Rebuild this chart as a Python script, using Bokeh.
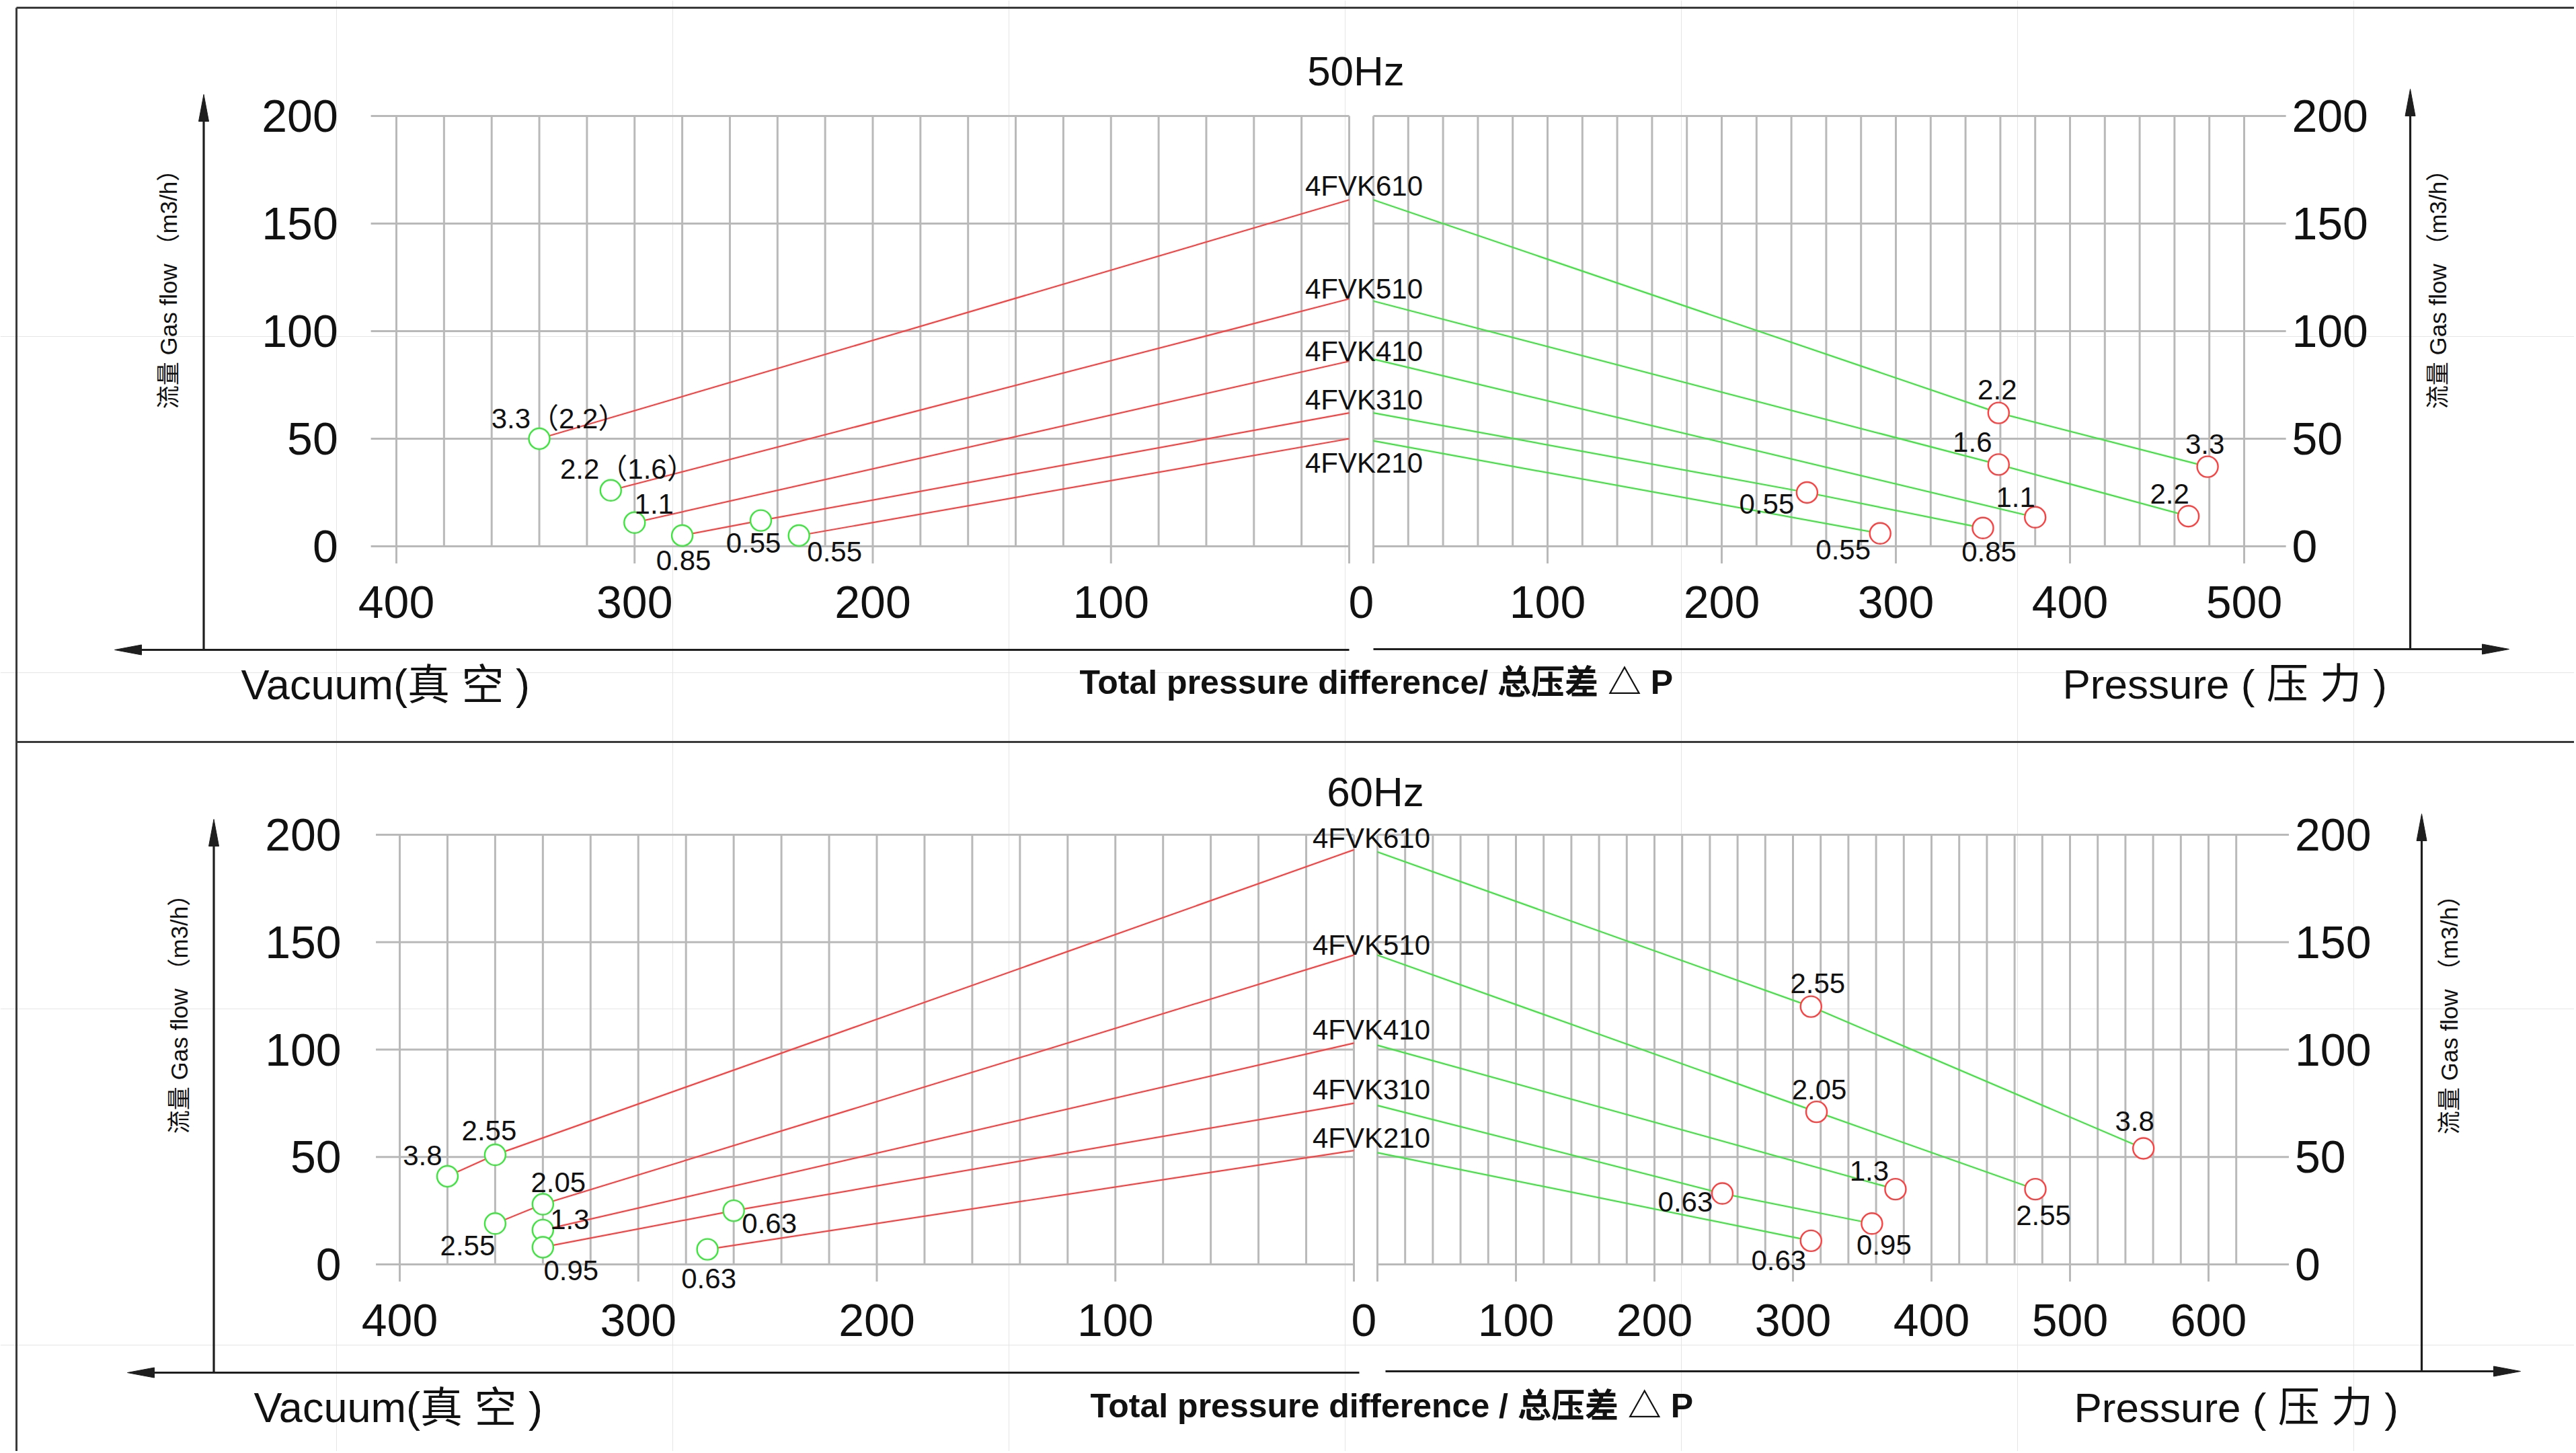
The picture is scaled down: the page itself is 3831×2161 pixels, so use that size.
import numpy as np
from bokeh.plotting import figure
from bokeh.models import Range1d, ColumnDataSource
from bokeh.core.properties import value
from bokeh.embed import file_html
from bokeh.resources import INLINE

# ---------------------------------------------------------------- data
models = ["4FVK610", "4FVK510", "4FVK410", "4FVK310", "4FVK210"]

# 50 Hz : flow (m3/h) at zero pressure difference
vac50_q0 = [161, 115, 86, 62, 50]
pre50_q0 = [161, 114, 87, 62, 49]
# 50 Hz operating points: model index, pressure difference, flow, motor kW
vac50_model = [0, 1, 2, 3, 3, 4]
vac50_dp = [340, 310, 300, 247, 280, 231]
vac50_q = [50, 26, 11, 12, 5, 5]
vac50_kw = ["3.3（2.2）", "2.2（1.6）", "1.1", "0.55", "0.85", "0.55"]

pre50_model = [0, 0, 1, 1, 2, 3, 3, 4]
pre50_dp = [359, 479, 359, 468, 380, 249, 350, 291]
pre50_q = [62, 37, 38, 14, 13.5, 25, 8.5, 6]
pre50_kw = ["2.2", "3.3", "1.6", "2.2", "1.1", "0.55", "0.85", "0.55"]

# 60 Hz
vac60_q0 = [193, 144, 103, 75, 53]
pre60_q0 = [192, 144, 102, 74, 52]
vac60_model = [0, 0, 1, 1, 2, 3, 3, 4]
vac60_dp = [360, 380, 340, 360, 340, 260, 340, 271]
vac60_q = [51, 41, 28, 19, 16, 25, 8, 7]
vac60_kw = ["2.55", "3.8", "2.05", "2.55", "1.3", "0.63", "0.95", "0.63"]

pre60_model = [0, 0, 1, 1, 2, 3, 3, 4]
pre60_dp = [313, 553, 317, 475, 374, 249, 357, 313]
pre60_q = [120, 54, 71, 35, 35, 33, 19, 11]
pre60_kw = ["2.55", "3.8", "2.05", "2.55", "1.3", "0.63", "0.95", "0.63"]

flow_ticks = [0, 50, 100, 150, 200]
vac_ticks = [400, 300, 200, 100]
pre50_ticks = [100, 200, 300, 400, 500]
pre60_ticks = [100, 200, 300, 400, 500, 600]

# ---------------------------------------------------------------- style
FONT = "Liberation Sans, Noto Sans CJK SC"
TXT = "#111111"
RED = "#ff4040"
GREEN = "#3ce63c"
GRID = "#b9b9b9"
AX = "#1e1e1e"

W, H = 3828, 2158
X0, Y0 = 0, 0

p = figure(width=W, height=H, output_backend="svg", toolbar_location=None,
           x_range=Range1d(X0, X0 + W), y_range=Range1d(Y0 + H, Y0),
           x_axis_location=None, y_axis_location=None, min_border=0)
p.outline_line_color = None
p.background_fill_color = "white"
p.border_fill_color = "white"


def lin(a, b, lo, hi):
    # screen px = a + b * data
    return Range1d(start=(lo - a) / b, end=(hi - a) / b)


p.extra_x_ranges = {
    "v50": lin(2006, -3.5425, X0, X0 + W),
    "p50": lin(2042, 2.59, X0, X0 + W),
    "v60": lin(2013, -3.5475, X0, X0 + W),
    "p60": lin(2048, 2.06, X0, X0 + W),
}
p.extra_y_ranges = {
    "y50": lin(812, -3.2, Y0 + H, Y0),
    "y60": lin(1880, -3.195, Y0 + H, Y0),
}


def tkw(size, align="center", baseline="middle", bold=False):
    return dict(text_font=value(FONT), text_font_size=f"{size}px", text_color=TXT,
                text_align=align, text_baseline=baseline,
                text_font_style="bold" if bold else "normal")


def grid(xr, yr, vmax, hend):
    xs = list(range(0, vmax + 1, 20))
    y0 = [-8 if x % 100 == 0 else 0 for x in xs]
    p.segment(x0=xs, y0=y0, x1=xs, y1=[200] * len(xs), line_color=GRID, line_width=3,
              x_range_name=xr, y_range_name=yr)
    p.segment(x0=[0] * len(flow_ticks), y0=flow_ticks, x1=[hend] * len(flow_ticks),
              y1=flow_ticks, line_color=GRID, line_width=3,
              x_range_name=xr, y_range_name=yr)


def curves(xr, yr, q0, model, dp, q, kw, offs, lcol, pcol):
    xs, ys = [], []
    for i in range(len(q0)):
        xx = [0] + [d for m, d in zip(model, dp) if m == i]
        yy = [q0[i]] + [v for m, v in zip(model, q) if m == i]
        xs.append(xx)
        ys.append(yy)
    p.multi_line(xs=xs, ys=ys, line_color=lcol, line_width=2.2,
                 x_range_name=xr, y_range_name=yr)
    p.scatter(x=dp, y=q, marker="circle", size=31, fill_color="white",
              line_color=pcol, line_width=2.4, x_range_name=xr, y_range_name=yr)
    src = ColumnDataSource(dict(x=dp, y=q, t=kw, dx=[o[0] for o in offs],
                                dy=[o[1] for o in offs]))
    p.text(x="x", y="y", text="t", x_offset="dx", y_offset="dy", source=src,
           x_range_name=xr, y_range_name=yr, **tkw(42))


def arrow_head(tx, ty, direction, length=40, half=7.5):
    if direction == "up":
        xs, ys = [tx, tx - half, tx + half], [ty, ty + length, ty + length]
    elif direction == "left":
        xs, ys = [tx, tx + length, tx + length], [ty, ty - half, ty + half]
    else:
        xs, ys = [tx, tx - length, tx - length], [ty, ty - half, ty + half]
    p.patch(xs, ys, fill_color=AX, line_color=AX, line_width=1)


# ---------------------------------------------------------------- frame
p.segment(x0=[24, 24, 24], y0=[11, 11, 1103], x1=[3831, 24, 3831], y1=[11, 2161, 1103],
          line_color="#3a3a3a", line_width=3)

# ---------------------------------------------------------------- panels
panels = [
    dict(v="v50", pr="p50", y="y50", pmax=500, pend=524, q0v=vac50_q0, q0p=pre50_q0,
         vm=vac50_model, vd=vac50_dp, vq=vac50_q, vk=vac50_kw,
         pm=pre50_model, pd=pre50_dp, pq=pre50_q, pk=pre50_kw, pt=pre50_ticks,
         voff=[(29, -30), (25, -32), (29, -28), (-11, 33), (2, 37), (53, 24)],
         poff=[(-2, -35), (-4, -34), (-39, -33), (-28, -33), (-29, -30), (-60, 17), (9, 35), (-55, 24)],
         moff=[-21, -15, -15, -20, 36], mdx=22, zdx=18, vlab=424.5, plab=527.4, vgs=410.7),
    dict(v="v60", pr="p60", y="y60", pmax=620, pend=658, q0v=vac60_q0, q0p=pre60_q0,
         vm=vac60_model, vd=vac60_dp, vq=vac60_q, vk=vac60_kw,
         pm=pre60_model, pd=pre60_dp, pq=pre60_q, pk=pre60_kw, pt=pre60_ticks,
         voff=[(-9, -36), (-37, -31), (23, -33), (-41, 33), (40, -16), (53, 19), (42, 35), (2, 43)],
         poff=[(10, -35), (-13, -40), (4, -33), (12, 39), (-39, -27), (-55, 12), (18, 32), (-48, 29)],
         moff=[-17, -15, -20, -20, -19], mdx=26, zdx=15, vlab=424.5, plab=662.4, vgs=410.0),
]

for P in panels:
    grid(P["v"], P["y"], 400, P["vgs"])
    grid(P["pr"], P["y"], P["pmax"], P["pend"])
    curves(P["v"], P["y"], P["q0v"], P["vm"], P["vd"], P["vq"], P["vk"], P["voff"], RED, GREEN)
    curves(P["pr"], P["y"], P["q0p"], P["pm"], P["pd"], P["pq"], P["pk"], P["poff"], GREEN, RED)
    # model names
    p.text(x=[0] * 5, y=P["q0v"], text=models, x_offset=P["mdx"], y_offset=P["moff"],
           x_range_name=P["v"], y_range_name=P["y"], **tkw(42))
    # x tick labels
    p.text(x=vac_ticks, y=[-26] * len(vac_ticks), text=[str(t) for t in vac_ticks],
           x_range_name=P["v"], y_range_name=P["y"], **tkw(68))
    p.text(x=[0], y=[-26], text=["0"], x_offset=P["zdx"],
           x_range_name=P["v"], y_range_name=P["y"], **tkw(68))
    p.text(x=P["pt"], y=[-26] * len(P["pt"]), text=[str(t) for t in P["pt"]],
           x_range_name=P["pr"], y_range_name=P["y"], **tkw(68))
    # y tick labels
    p.text(x=[P["vlab"]] * 5, y=flow_ticks, text=[str(t) for t in flow_ticks],
           x_range_name=P["v"], y_range_name=P["y"], **tkw(68, align="right"))
    p.text(x=[P["plab"]] * 5, y=flow_ticks, text=[str(t) for t in flow_ticks],
           x_range_name=P["pr"], y_range_name=P["y"], **tkw(68, align="left"))

# ---------------------------------------------------------------- axes with arrows
# top panel
p.segment(x0=[302.5, 200, 2042, 3584], y0=[966, 966, 965, 965],
          x1=[302.5, 2006, 3700, 3584], y1=[170, 966, 965, 165], line_color=AX, line_width=3.2)
arrow_head(302.5, 140, "up")
arrow_head(170, 966, "left")
arrow_head(3731, 965, "right")
arrow_head(3584, 132, "up")
# bottom panel
p.segment(x0=[317.5, 220, 2060, 3601], y0=[2041, 2041, 2039, 2039],
          x1=[317.5, 2021, 3716, 3601], y1=[1248, 2041, 2039, 1240], line_color=AX, line_width=3.2)
arrow_head(317.5, 1218, "up")
arrow_head(189, 2041, "left")
arrow_head(3748, 2039, "right")
arrow_head(3601, 1210, "up")

# ---------------------------------------------------------------- titles / axis names
p.text(x=[2016, 2045], y=[105, 1177], text=["50Hz", "60Hz"], **tkw(62))
ytitle = "流量 Gas flow （m3/h）"
p.text(x=[250, 3625, 265.5, 3642], y=[421, 421, 1499, 1500], text=[ytitle] * 4,
       angle=np.pi / 2, **tkw(35))
p.text(x=[358, 377], y=[1017, 2092], text=["Vacuum(真 空 )", "Vacuum(真 空 )"],
       **tkw(63, align="left"))
p.text(x=[1605, 1621], y=[1014, 2090],
       text=["Total pressure difference/ 总压差 △ P", "Total pressure difference / 总压差 △ P"],
       **tkw(50, align="left", bold=True))
p.text(x=[3067, 3084], y=[1017, 2093], text=["Pressure ( 压 力 )", "Pressure ( 压 力 )"],
       **tkw(62, align="left"))

open("out.html", "w").write(file_html(p, INLINE))
